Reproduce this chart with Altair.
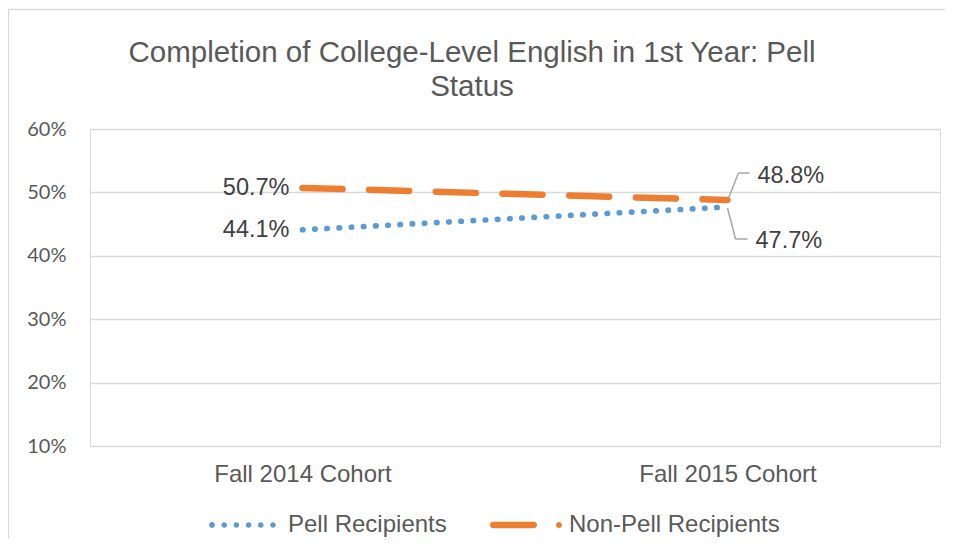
import altair as alt
import pandas as pd

# ---- data ----
cohorts = ["Fall 2014 Cohort", "Fall 2015 Cohort"]
series = ["Pell Recipients", "Non-Pell Recipients"]
pell = [44.1, 47.7]
non_pell = [50.7, 48.8]
y_ticks = [10, 20, 30, 40, 50, 60]
title_lines = ["Completion of College-Level English in 1st Year: Pell", "Status"]

rows = []
for s, vals in zip(series, [pell, non_pell]):
    for c, v in zip(cohorts, vals):
        rows.append({"cohort": c, "series": s, "value": v})
df = pd.DataFrame(rows)

BLUE = "#5B9BD5"
ORANGE = "#ED7D31"
GRAY_TXT = "#595959"
DARK_TXT = "#404040"
FONT = "Liberation Sans"

# ---- legend symbol paths (unit box, half-size S px) ----
S = 36.0


def u(px):
    return round(px / S, 4)


def circle(cx, r):
    return (f"M{u(cx - r)},0A{u(r)},{u(r)} 0 1,0 {u(cx + r)},0"
            f"A{u(r)},{u(r)} 0 1,0 {u(cx - r)},0Z")


pell_path = "".join(circle(-33 + 12.2 * k, 2.8) for k in range(6))
h = 3.25
x0, x1 = -36 + h, 11 - h
dash_path = (f"M{u(x0)},{u(-h)}L{u(x1)},{u(-h)}A{u(h)},{u(h)} 0 0,1 {u(x1)},{u(h)}"
             f"L{u(x0)},{u(h)}A{u(h)},{u(h)} 0 0,1 {u(x0)},{u(-h)}Z")
nonpell_path = dash_path + circle(33, 3)

# ---- base ----
base = alt.Chart(df).encode(
    x=alt.X("cohort:N", sort=cohorts,
            scale=alt.Scale(domain=cohorts, type="point", padding=0.5),
            axis=alt.Axis(title=None, domain=False, ticks=False, grid=False,
                          labelAngle=0, labelFont=FONT, labelFontSize=24,
                          labelColor=GRAY_TXT, labelPadding=16)),
    y=alt.Y("value:Q", scale=alt.Scale(domain=[10, 60], nice=False, zero=False),
            axis=alt.Axis(title=None, values=y_ticks, labelExpr="datum.value + '%'",
                          domain=False, ticks=False, gridColor="#d9d9d9", gridWidth=1.3,
                          labelFont="Lato", labelFontSize=20, labelColor=GRAY_TXT,
                          labelPadding=24)),
)

border = alt.Chart(alt.Data(values=[{"a": 1}])).mark_rect(
    fill="white", fillOpacity=0, stroke="#d9d9d9", strokeWidth=1.3
).encode(x=alt.value(-81.5), x2=alt.value(900), y=alt.value(-119.5), y2=alt.value(520))

styles = {
    "Pell Recipients": dict(color=BLUE, strokeDash=[0.5, 11.7], strokeWidth=5.6),
    "Non-Pell Recipients": dict(color=ORANGE, strokeDash=[40, 26.7], strokeWidth=6.5),
}
line_layers = [
    base.transform_filter(alt.datum.series == s).mark_line(strokeCap="round", **styles[s])
    for s in series
]

legend_def = alt.Legend(
    title=None, orient="none", legendX=119, legendY=360, direction="horizontal",
    symbolSize=(2 * S) ** 2, symbolOpacity=1, symbolStrokeWidth=0,
    labelFont=FONT, labelFontSize=24, labelColor=GRAY_TXT, labelOffset=7,
    columnPadding=43, labelLimit=500, padding=0,
)
legend_layer = base.mark_point(filled=True, opacity=0).encode(
    color=alt.Color("series:N", scale=alt.Scale(domain=series, range=[BLUE, ORANGE]),
                    legend=legend_def),
    shape=alt.Shape("series:N", scale=alt.Scale(domain=series, range=[pell_path, nonpell_path]),
                    legend=legend_def),
)

lab = base.transform_calculate(label="format(datum.value, '.1f') + '%'")
text_style = dict(font=FONT, fontSize=23.5, color=DARK_TXT, baseline="middle")

left_labels = lab.transform_filter(alt.datum.cohort == cohorts[0]).mark_text(
    align="right", dx=-13, dy=0.5, **text_style).encode(text="label:N")
np_last = lab.transform_filter((alt.datum.cohort == cohorts[1]) & (alt.datum.series == series[1]))
p_last = lab.transform_filter((alt.datum.cohort == cohorts[1]) & (alt.datum.series == series[0]))
np_label = np_last.mark_text(align="left", dx=30, dy=-24, **text_style).encode(text="label:N")
p_label = p_last.mark_text(align="left", dx=28, dy=34, **text_style).encode(text="label:N")

leader_style = dict(color="#a6a6a6", strokeWidth=1.5)


def seg(layer, a, b, c, d):
    return layer.mark_rule(xOffset=a, yOffset=b, x2Offset=c, y2Offset=d, **leader_style).encode(
        x2=alt.X2("cohort"), y2=alt.Y2("value"))


leaders = [
    seg(np_last, 1, -2, 11, -27), seg(np_last, 11, -27, 22, -27),
    seg(p_last, 0, 1, 8, 32), seg(p_last, 8, 32, 20, 32),
]

chart = alt.layer(
    border, *line_layers, legend_layer, left_labels, np_label, p_label, *leaders
).properties(
    width=850, height=317,
    autosize=alt.AutoSizeParams(type="none"),
    padding={"left": 82, "top": 121, "right": 5, "bottom": 92},
    title=alt.TitleParams(text=title_lines, fontSize=29.5, font=FONT, color=GRAY_TXT,
                          fontWeight="normal", anchor="middle", dx=-43, offset=-94,
                          lineHeight=34),
).configure_view(stroke=None).configure(background="white")

chart.save("out.html", embed_options={"renderer": "svg", "actions": False})
